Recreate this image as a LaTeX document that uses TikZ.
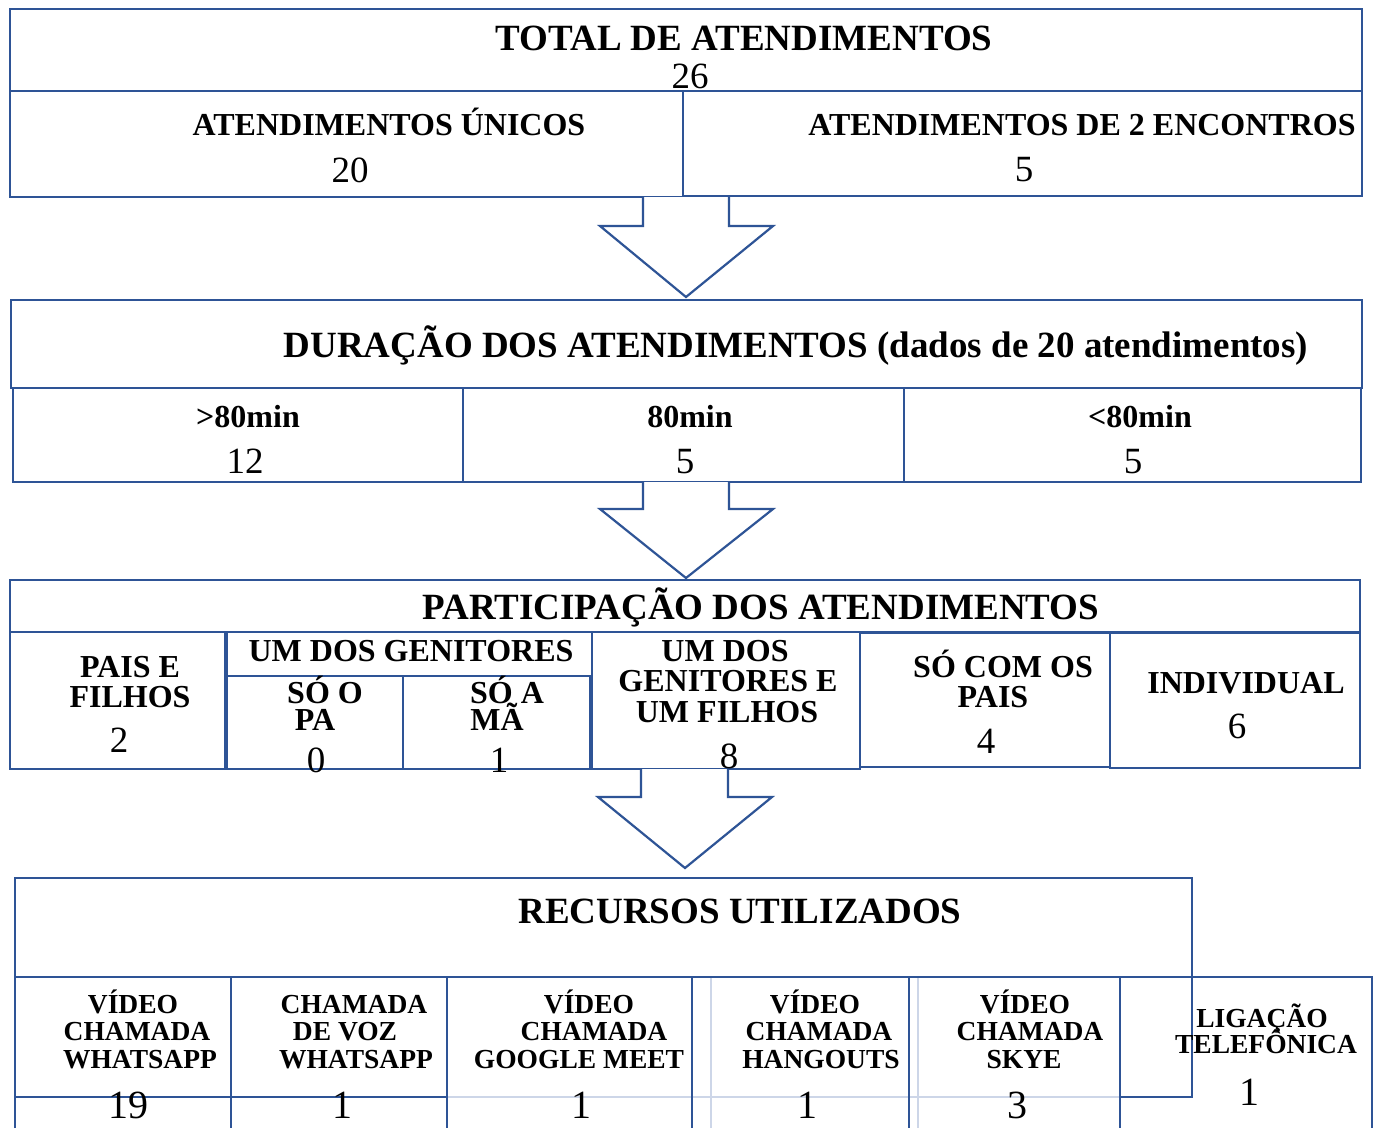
\documentclass[tikz,border=0pt]{standalone}
\usepackage{fontspec}
\setmainfont{Liberation Serif}
\newcommand\fsTitle{\fontsize{37}{40}\selectfont\bfseries}
\newcommand\fsLab{\fontsize{32}{34}\selectfont\bfseries}
\newcommand\fsNum{\fontsize{37}{40}\selectfont}
\newcommand\fsSm{\fontsize{27.5}{30}\selectfont\bfseries}
\newcommand\fsBig{\fontsize{40}{42}\selectfont}
\definecolor{bblue}{RGB}{46,84,150}
\definecolor{faint}{RGB}{205,214,232}
\tikzset{
  box/.style={draw=bblue, line width=2.4pt},
  fbox/.style={draw=faint, line width=1.6pt},
  blk/.style={draw=bblue, line width=2.2pt, fill=white, line join=miter},
  ttl/.style={anchor=base, inner sep=0pt, font=\fsTitle},
  lab/.style={anchor=base, inner sep=0pt, font=\fsLab},
  num/.style={anchor=base, inner sep=0pt, font=\fsNum},
  sm/.style={anchor=base, inner sep=0pt, font=\fsSm},
  big/.style={anchor=base, inner sep=0pt, font=\fsBig}
}
\begin{document}
\begin{tikzpicture}[x=1pt,y=-1pt]
\fill[white] (0,0) rectangle (1376,1128);
\useasboundingbox (0,0) rectangle (1376,1128);

% ---------- Section 1 ----------
\draw[box] (10,9) rectangle (1362,91);
\draw[box] (10,91) rectangle (683,197);
\draw[box] (683,91) rectangle (1362,196);
\node[ttl] (t1) at (744,50) {TOTAL DE ATENDIMENTOS};
\node[num] (n1) at (690,88) {26};
\node[lab] (l11) at (389,135) {ATENDIMENTOS ÚNICOS};
\node[num] (n11) at (350,182) {20};
\node[lab] (l12) at (1082,135) {ATENDIMENTOS DE 2 ENCONTROS};
\node[num] (n12) at (1024,181) {5};

% arrow 1
\coordinate (a1) at (686,197);
\draw[blk] (a1) ++(-43,0) -- ++(0,29) -- ++(-43,0) -- ++(86,71) -- ++(87,-71) -- ++(-44,0) -- ++(0,-29);

% ---------- Section 2 ----------
\draw[box] (11,300) rectangle (1362,388);
\draw[box] (13,388) rectangle (463,482);
\draw[box] (463,388) rectangle (904,482);
\draw[box] (904,388) rectangle (1361,482);
\node[ttl] (t2) at (796,357) {DURAÇÃO DOS ATENDIMENTOS (dados de 20 atendimentos)};
\node[lab] (l21) at (248,427) {>80min};
\node[num] (n21) at (245,473) {12};
\node[lab] (l22) at (690,427) {80min};
\node[num] (n22) at (685,473) {5};
\node[lab] (l23) at (1140,427) {<80min};
\node[num] (n23) at (1133,473) {5};

% arrow 2
\coordinate (a2) at (686,482);
\draw[blk] (a2) ++(-43,0) -- ++(0,27) -- ++(-43,0) -- ++(86,69) -- ++(87,-69) -- ++(-44,0) -- ++(0,-27);

% ---------- Section 3 ----------
\draw[box] (10,580) rectangle (1360,632);
\draw[box] (10,632) rectangle (225,769);
\draw[box] (227,632) rectangle (592,676);
\draw[box] (227,676) rectangle (403,769);
\draw[box] (403,676) rectangle (590,769);
\draw[box] (592,632) rectangle (860,769);
\draw[box] (860,633) rectangle (1110,767);
\draw[box] (1110,633) rectangle (1360,768);
\node[ttl] (t3) at (761,619) {PARTICIPAÇÃO DOS ATENDIMENTOS};
\node[lab] (l31a) at (130,677) {PAIS E};
\node[lab] (l31b) at (130,707) {FILHOS};
\node[num] (n31) at (119,752) {2};
\node[lab] (l32) at (411,661) {UM DOS GENITORES};
\node[lab] (l33a) at (325,703) {SÓ O};
\node[lab] (l33b) at (315,730) {PA};
\node[num] (n33) at (316,772) {0};
\node[lab] (l34a) at (507,703) {SÓ A};
\node[lab] (l34b) at (497,730) {MÃ};
\node[num] (n34) at (499,772) {1};
\node[lab] (l35a) at (725,661) {UM DOS};
\node[lab] (l35b) at (728,691) {GENITORES E};
\node[lab] (l35c) at (727,722) {UM FILHOS};
\node[num] (n35) at (729,768) {8};
\node[lab] (l36a) at (1003,677) {SÓ COM OS};
\node[lab] (l36b) at (993,707) {PAIS};
\node[num] (n36) at (986,753) {4};
\node[lab] (l37) at (1246,693) {INDIVIDUAL};
\node[num] (n37) at (1237,738) {6};

% arrow 3
\coordinate (a3) at (684,769);
\draw[blk] (a3) ++(-43,0) -- ++(0,28) -- ++(-43,0) -- ++(87,71) -- ++(87,-71) -- ++(-44,0) -- ++(0,-28);

% ---------- Section 4 ----------
\draw[fbox] (711,977) -- (711,1128);
\draw[fbox] (918,977) -- (918,1128);
\draw[fbox] (447,1097) -- (1120,1097);
\draw[box] (15,1128) -- (15,878) -- (1192,878) -- (1192,1097) -- (1120,1097);
\draw[box] (15,1097) -- (447,1097);
\draw[box] (15,977) -- (1372,977) -- (1372,1128);
\foreach \xx in {231,447,692,909,1120} \draw[box] (\xx,977) -- (\xx,1128);
\node[ttl] (t4) at (740,923) {RECURSOS UTILIZADOS};

\node[sm] (c1a) at (133,1013) {VÍDEO};
\node[sm] (c1b) at (137,1040) {CHAMADA};
\node[sm] (c1c) at (140,1068) {WHATSAPP};
\node[big] (d1) at (128,1118) {19};

\node[sm] (c2a) at (354,1013) {CHAMADA};
\node[sm] (c2b) at (345,1040) {DE VOZ};
\node[sm] (c2c) at (356,1068) {WHATSAPP};
\node[big] (d2) at (342,1118) {1};

\node[sm] (c3a) at (589,1013) {VÍDEO};
\node[sm] (c3b) at (594,1040) {CHAMADA};
\node[sm] (c3c) at (579,1068) {GOOGLE MEET};
\node[big] (d3) at (581,1118) {1};

\node[sm] (c4a) at (815,1013) {VÍDEO};
\node[sm] (c4b) at (819,1040) {CHAMADA};
\node[sm] (c4c) at (821,1068) {HANGOUTS};
\node[big] (d4) at (807,1118) {1};

\node[sm] (c5a) at (1025,1013) {VÍDEO};
\node[sm] (c5b) at (1030,1040) {CHAMADA};
\node[sm] (c5c) at (1024,1068) {SKYE};
\node[big] (d5) at (1017,1118) {3};

\node[sm] (c6a) at (1262,1027) {LIGAÇÃO};
\node[sm] (c6b) at (1266,1053) {TELEFÔNICA};
\node[big] (d6) at (1249,1105) {1};
\end{tikzpicture}
\end{document}
